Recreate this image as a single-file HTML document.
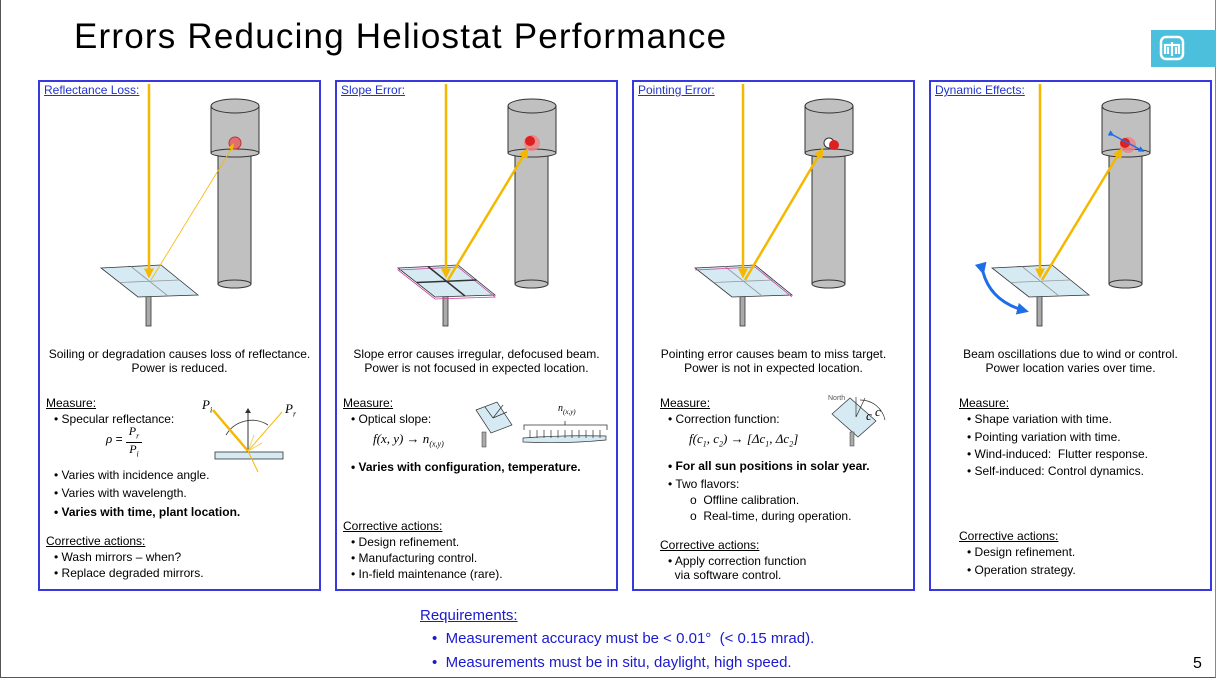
<!DOCTYPE html>
<html><head><meta charset="utf-8"><style>
body{margin:0;width:1216px;height:680px;position:relative;background:#fff;font-family:"Liberation Sans",sans-serif;overflow:hidden}
.frame{position:absolute;left:0;top:0;width:1214px;height:677px;border:1px solid #555;border-top:none;border-right:1px solid #888}
h1{position:absolute;left:74px;top:17px;margin:0;font-weight:normal;font-size:35px;letter-spacing:1.2px;color:#000}
.logo{position:absolute;left:1151px;top:30px;width:65px;height:37px;background:#4bbfdc}
.panel{position:absolute;top:80px;width:279px;height:507px;border:2px solid #3838e0}
.t{position:absolute;font-size:12px;color:#000;white-space:nowrap;line-height:14px}
.c{text-align:center}
.u{text-decoration:underline}
.b{font-weight:bold}
.title{color:#2233cc;text-decoration:underline;font-size:12px}
.req{position:absolute;color:#1a1ad0;font-size:15px;white-space:nowrap}
.m{font-family:"Liberation Serif",serif;font-style:italic;font-size:13px}
</style></head><body>
<div class="frame"></div>
<h1>Errors Reducing Heliostat Performance</h1>
<div class="logo"><svg width="65" height="37"><rect x="10" y="7" width="22" height="22" rx="5" fill="none" stroke="#fff" stroke-width="2.5"/><path d="M14 24 V15 H28 V24 M21 12 V26 M17 17 V24 M25 17 V24" stroke="#fff" stroke-width="2.2" fill="none"/></svg></div>

<div class="panel" style="left:38px"></div>
<div class="panel" style="left:335px"></div>
<div class="panel" style="left:632px"></div>
<div class="panel" style="left:929px"></div>

<svg width="1216" height="680" style="position:absolute;left:0;top:0">
<defs>
<marker id="ah" markerWidth="4" markerHeight="4" refX="3" refY="2" orient="auto"><path d="M0,0 L4,2 L0,4z" fill="#f5b800"/></marker>
<marker id="bh" markerWidth="4" markerHeight="4" refX="3" refY="2" orient="auto"><path d="M0,0 L4,2 L0,4z" fill="#1e6ee8"/></marker>
<g id="tower">
<rect x="218" y="150" width="33" height="134" fill="#c0c0c0" stroke="#333"/>
<ellipse cx="234.5" cy="284" rx="16.5" ry="4" fill="#c0c0c0" stroke="#333"/>
<rect x="211" y="106" width="48" height="47" fill="#c0c0c0" stroke="#333"/>
<ellipse cx="235" cy="153" rx="24" ry="4" fill="#c0c0c0" stroke="#333"/>
<ellipse cx="235" cy="106" rx="24" ry="7" fill="#c0c0c0" stroke="#333"/>
</g>
<g id="helio">
<rect x="146" y="294" width="5" height="32" fill="#aaa" stroke="#333" stroke-width="0.8"/>
<path d="M101,268 L161,265 L198,295 L138,297z" fill="#d5eaf2" stroke="#333" stroke-width="0.8"/>
<path d="M131,266.5 L168,296 M119.5,282.5 L179.5,280" stroke="#999" stroke-width="0.8"/>
</g>
</defs>
<use href="#tower"/>
<circle cx="235" cy="143" r="6" fill="#e07070" stroke="#b33"/>
<use href="#helio"/>
<line x1="149" y1="84" x2="149" y2="276" stroke="#f5b800" stroke-width="2.5" marker-end="url(#ah)"/>
<line x1="151" y1="280" x2="232" y2="148" stroke="#f5b800" stroke-width="0.8"/>
<path d="M228,148 l6,-5 l-1,7z" fill="#f5b800"/>
<rect x="215" y="452" width="68" height="7" fill="#d5eaf2" stroke="#333" stroke-width="0.8"/>
<line x1="248" y1="452" x2="248" y2="410" stroke="#333"/><path d="M245,413 l3,-5 l3,5z" fill="#333"/>
<path d="M226,435 A30,30 0 0 1 268,425" fill="none" stroke="#333" stroke-width="0.8"/>
<line x1="213" y1="410" x2="248" y2="451" stroke="#f5b800" stroke-width="2.5"/>
<line x1="248" y1="451" x2="282" y2="412" stroke="#f5b800" stroke-width="1"/>
<line x1="248" y1="451" x2="258" y2="472" stroke="#f5b800" stroke-width="1"/>
<path d="M248,451 l12,-14 M248,451 l14,-8 M248,451 l6,-16" stroke="#f5c840" stroke-width="0.8"/>
<g transform="translate(297,0)">
<use href="#tower"/>
<circle cx="235" cy="143" r="8" fill="#f08080" opacity="0.8"/><circle cx="233" cy="141" r="5" fill="#e02020"/>
<use href="#helio"/>
<path d="M101,268 L161,265 L198,295 L138,297z" fill="none" stroke="#d040a0" stroke-width="0.8" transform="translate(0,2)"/>
<path d="M131,266.5 L168,296 M119.5,282.5 L179.5,280" stroke="#333" stroke-width="1.5"/>
<line x1="149" y1="84" x2="149" y2="276" stroke="#f5b800" stroke-width="2.5" marker-end="url(#ah)"/>
<line x1="151" y1="280" x2="230" y2="150" stroke="#f5b800" stroke-width="2.5" marker-end="url(#ah)"/>
</g>
<path d="M476,410 L497,402 L512,425 L491,433z" fill="#d5eaf2" stroke="#333" stroke-width="0.7"/>
<rect x="482" y="432" width="4" height="15" fill="#aaa" stroke="#333" stroke-width="0.5"/>
<path d="M493,418 l10,-13 M493,418 l14,-6 M493,418 l-8,-11" stroke="#333" stroke-width="0.7"/>
<path d="M523,438 q40,-3 83,-2 l0,4 q-40,4 -83,2z" fill="#d5eaf2" stroke="#333" stroke-width="0.7"/>
<path d="M524,430 v-5 h83 v5 M565,425 v-4" fill="none" stroke="#333" stroke-width="0.8"/>
<g stroke="#333" stroke-width="0.7"><path d="M530,438 v-8 M537,438 v-8 M544,438 v-8 M551,438 v-8 M558,438 v-8 M565,438 v-8 M572,438 v-8 M579,438 v-8 M586,438 v-8 M593,438 v-8 M600,438 v-8"/></g>
<g transform="translate(594,0)">
<use href="#tower"/>
<circle cx="235" cy="143" r="5" fill="#fff" stroke="#333"/>
<circle cx="240" cy="145" r="5" fill="#e02020"/>
<use href="#helio"/>
<path d="M101,268 L161,265 L198,295" fill="none" stroke="#d040a0" stroke-width="0.8" transform="translate(0,2)"/>
<line x1="149" y1="84" x2="149" y2="276" stroke="#f5b800" stroke-width="2.5" marker-end="url(#ah)"/>
<line x1="151" y1="280" x2="228" y2="150" stroke="#f5b800" stroke-width="2.5" marker-end="url(#ah)"/>
</g>
<path d="M832,414 L850,398 L876,421 L858,437z" fill="#d5eaf2" stroke="#333" stroke-width="0.7"/>
<rect x="850" y="432" width="4" height="14" fill="#aaa" stroke="#333" stroke-width="0.5"/>
<path d="M856,417 v-20 M856,417 l9,-19 M860,400 a25,25 0 0 1 25,20" fill="none" stroke="#333" stroke-width="0.7"/>
<text x="828" y="400" font-size="7" fill="#555">North</text>
<text x="875" y="416" class="m" font-size="9">c</text><text x="866" y="420" class="m" font-size="8">c</text>
<g transform="translate(891,0)">
<use href="#tower"/>
<circle cx="237" cy="145" r="8" fill="#f08080" opacity="0.8"/><circle cx="234" cy="143" r="5" fill="#e02020"/>
<line x1="222" y1="135" x2="252" y2="151" stroke="#1e6ee8" stroke-width="1.5" marker-end="url(#bh)" marker-start="url(#bh)"/>
<use href="#helio"/>
<line x1="149" y1="84" x2="149" y2="276" stroke="#f5b800" stroke-width="2.5" marker-end="url(#ah)"/>
<line x1="151" y1="280" x2="230" y2="150" stroke="#f5b800" stroke-width="2.5" marker-end="url(#ah)"/>
<path d="M92,272 Q100,302 135,311" fill="none" stroke="#1e6ee8" stroke-width="3" marker-start="url(#bh)" marker-end="url(#bh)"/>
</g>
</svg>

<div class="t title" style="left:44px;top:83px">Reflectance Loss:</div>
<div class="t c" style="left:38px;width:283px;top:347px">Soiling or degradation causes loss of reflectance.<br>Power is reduced.</div>
<div class="t u" style="left:46px;top:396px">Measure:</div>
<div class="t" style="left:54px;top:412px">• Specular reflectance:</div>
<div class="t" style="left:106px;top:432px"><span class="m">ρ</span> = </div>
<div class="t m" style="left:126px;top:425px;font-size:12px;text-align:center;width:16px;border-bottom:1px solid #000;line-height:13px">P<sub style="font-size:8px">r</sub></div>
<div class="t m" style="left:126px;top:442px;font-size:12px;text-align:center;width:16px">P<sub style="font-size:8px">i</sub></div>
<div class="t m" style="left:202px;top:398px">P<sub style="font-size:8px">i</sub></div>
<div class="t m" style="left:285px;top:402px">P<sub style="font-size:8px">r</sub></div>
<div class="t" style="left:54px;top:468px">• Varies with incidence angle.</div>
<div class="t" style="left:54px;top:486px">• Varies with wavelength.</div>
<div class="t b" style="left:54px;top:505px">• Varies with time, plant location.</div>
<div class="t u" style="left:46px;top:534px">Corrective actions:</div>
<div class="t" style="left:54px;top:550px">• Wash mirrors – when?</div>
<div class="t" style="left:54px;top:566px">• Replace degraded mirrors.</div>

<div class="t title" style="left:341px;top:83px">Slope Error:</div>
<div class="t c" style="left:335px;width:283px;top:347px">Slope error causes irregular, defocused beam.<br>Power is not focused in expected location.</div>
<div class="t u" style="left:343px;top:396px">Measure:</div>
<div class="t" style="left:351px;top:412px">• Optical slope:</div>
<div class="t m" style="left:373px;top:432px">f(x, y) → n<sub style="font-size:8px">(x,y)</sub></div>
<div class="t m" style="left:558px;top:402px;font-size:10px">n<sub style="font-size:7px">(x,y)</sub></div>
<div class="t b" style="left:351px;top:460px">• Varies with configuration, temperature.</div>
<div class="t u" style="left:343px;top:519px">Corrective actions:</div>
<div class="t" style="left:351px;top:535px">• Design refinement.</div>
<div class="t" style="left:351px;top:551px">• Manufacturing control.</div>
<div class="t" style="left:351px;top:567px">• In-field maintenance (rare).</div>

<div class="t title" style="left:638px;top:83px">Pointing Error:</div>
<div class="t c" style="left:632px;width:283px;top:347px">Pointing error causes beam to miss target.<br>Power is not in expected location.</div>
<div class="t u" style="left:660px;top:396px">Measure:</div>
<div class="t" style="left:668px;top:412px">• Correction function:</div>
<div class="t m" style="left:689px;top:432px">f(c<sub style="font-size:8px">1</sub>, c<sub style="font-size:8px">2</sub>) → [Δc<sub style="font-size:8px">1</sub>, Δc<sub style="font-size:8px">2</sub>]</div>
<div class="t b" style="left:668px;top:459px">• For all sun positions in solar year.</div>
<div class="t" style="left:668px;top:477px">• Two flavors:</div>
<div class="t" style="left:690px;top:493px">ο&nbsp; Offline calibration.</div>
<div class="t" style="left:690px;top:509px">ο&nbsp; Real-time, during operation.</div>
<div class="t u" style="left:660px;top:538px">Corrective actions:</div>
<div class="t" style="left:668px;top:554px">• Apply correction function<br>&nbsp;&nbsp;via software control.</div>

<div class="t title" style="left:935px;top:83px">Dynamic Effects:</div>
<div class="t c" style="left:929px;width:283px;top:347px">Beam oscillations due to wind or control.<br>Power location varies over time.</div>
<div class="t u" style="left:959px;top:396px">Measure:</div>
<div class="t" style="left:967px;top:412px">• Shape variation with time.</div>
<div class="t" style="left:967px;top:430px">• Pointing variation with time.</div>
<div class="t" style="left:967px;top:447px">• Wind-induced:&nbsp; Flutter response.</div>
<div class="t" style="left:967px;top:464px">• Self-induced: Control dynamics.</div>
<div class="t u" style="left:959px;top:529px">Corrective actions:</div>
<div class="t" style="left:967px;top:545px">• Design refinement.</div>
<div class="t" style="left:967px;top:563px">• Operation strategy.</div>

<div class="req u" style="left:420px;top:607px">Requirements:</div>
<div class="req" style="left:432px;top:630px">•&nbsp; Measurement accuracy must be &lt; 0.01°&nbsp; (&lt; 0.15 mrad).</div>
<div class="req" style="left:432px;top:654px">•&nbsp; Measurements must be in situ, daylight, high speed.</div>
<div class="t" style="left:1193px;top:657px;font-size:16px">5</div>
</body></html>
